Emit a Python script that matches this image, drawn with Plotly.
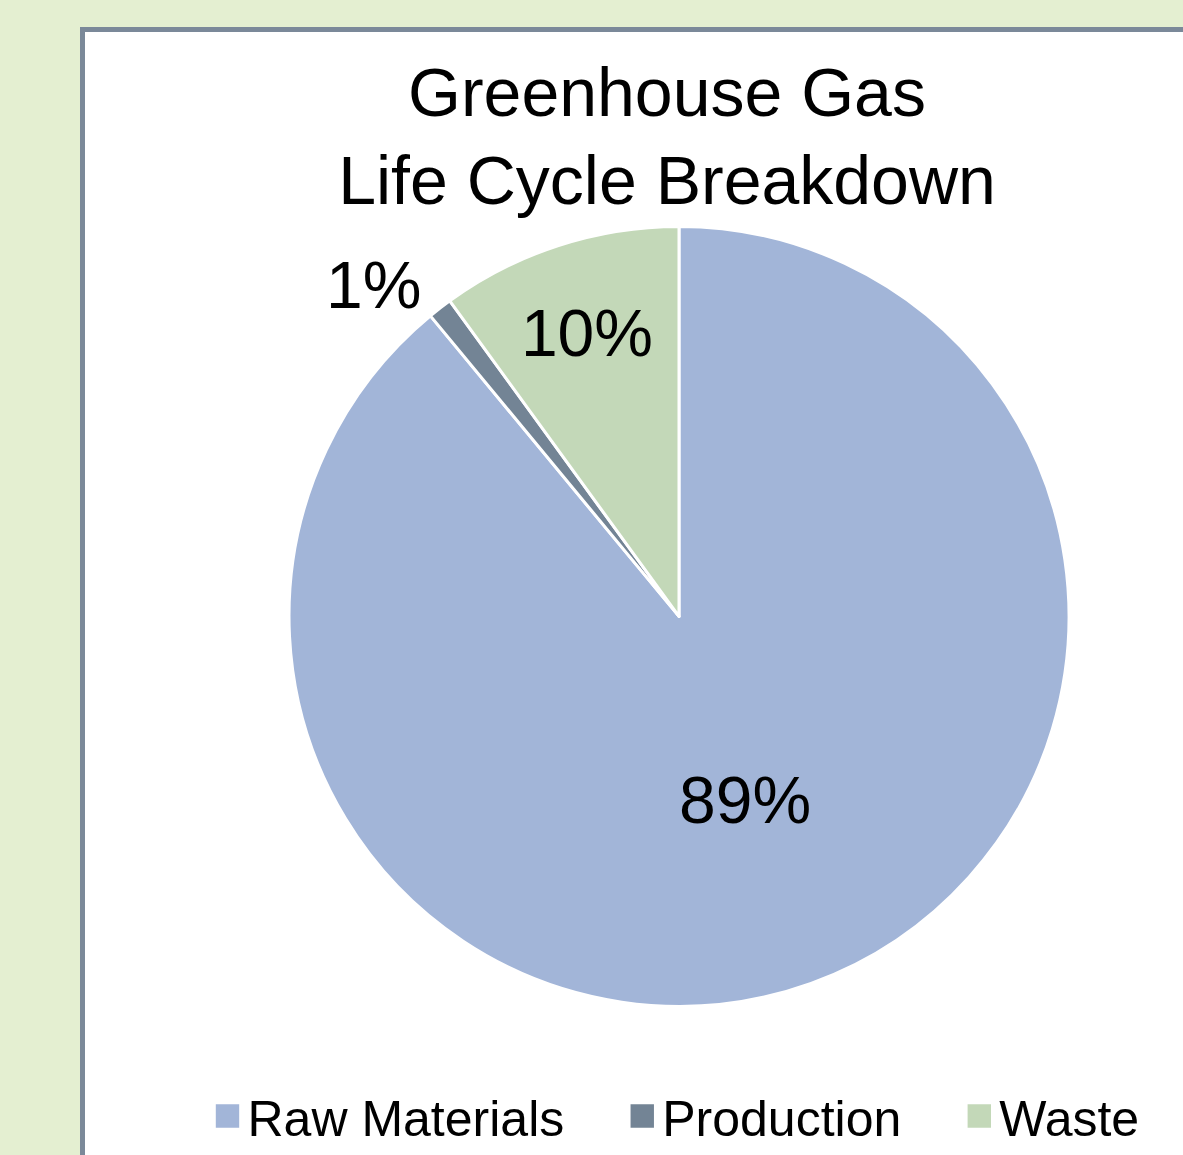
import plotly.graph_objects as go

W, H = 1183, 1155

categories = ["Raw Materials", "Production", "Waste"]
values = [89, 1, 10]
colors = ["#a2b5d8", "#738495", "#c3d8b8"]
text_positions = ["inside", "outside", "inside"]
title_text = "Greenhouse Gas<br>Life Cycle Breakdown"

FONT = "Liberation Sans"
BG = "#e4efd1"

def px_x(x):
    return x / W

def px_y(y):
    return 1 - y / H

fig = go.Figure()
fig.add_trace(go.Pie(
    labels=categories,
    values=values,
    sort=False,
    direction="clockwise",
    rotation=0,
    marker=dict(colors=colors, line=dict(color="white", width=3)),
    textinfo="percent",
    texttemplate="%{percent:.0%}",
    textposition=text_positions,
    insidetextorientation="horizontal",
    textfont=dict(family=FONT, size=66, color="black"),
    outsidetextfont=dict(family=FONT, size=66, color="black"),
    domain=dict(x=[px_x(288), px_x(1070)], y=[px_y(1009), px_y(227)]),
    hoverinfo="label+percent",
))

fig.update_layout(
    width=W, height=H,
    margin=dict(l=0, r=0, t=0, b=0),
    paper_bgcolor=BG,
    plot_bgcolor="white",
    title=dict(text=title_text, x=px_x(667), xanchor="center",
               y=px_y(116), yanchor="top", yref="container",
               font=dict(family=FONT, size=68, color="black")),
    showlegend=True,
    legend=dict(orientation="h", x=px_x(676), xanchor="center",
                y=px_y(1119), yanchor="middle",
                font=dict(family=FONT, size=50, color="black"),
                bgcolor="rgba(0,0,0,0)",
                traceorder="normal"),
    uniformtext=dict(minsize=64, mode="show"),
    shapes=[dict(type="rect", xref="paper", yref="paper",
                 x0=px_x(82.5), x1=1.1, y0=-0.1, y1=px_y(29.5),
                 line=dict(color="#7b8999", width=5),
                 fillcolor="white", layer="below")],
)

post = """
document.body.style.margin = '0';
document.body.style.background = '%s';
var gd = document.getElementById('{plot_id}');
gd.querySelectorAll('.legend .scrollbox, .legend').forEach(function(e){
  e.removeAttribute('clip-path');
});
gd.querySelectorAll('.legendpoints path').forEach(function(p){
  var t = p.getAttribute('transform') || '';
  p.setAttribute('transform', t + ' scale(2.6)');
});
var items = gd.querySelectorAll('.legend .traces');
var n = items.length, extra = 53;
items.forEach(function(g, i){
  var t = g.getAttribute('transform') || '';
  var m = /translate\\(([-\\d.]+)[ ,]*([-\\d.]+)?\\)/.exec(t);
  if (m) {
    var x = parseFloat(m[1]) + (i - (n - 1) / 2) * extra;
    var y = parseFloat(m[2] || 0);
    g.setAttribute('transform', 'translate(' + x + ',' + y + ')');
  }
});
""" % BG

fig.write_html("out.html", post_script=post, config={"displayModeBar": False})
